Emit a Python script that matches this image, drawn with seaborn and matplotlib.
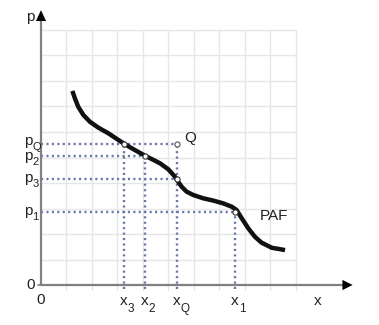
import matplotlib
matplotlib.use("Agg")
import matplotlib.pyplot as plt
import seaborn as sns
import pandas as pd

sns.set_theme(style="white")
plt.rcParams['font.family'] = ['Liberation Sans', 'DejaVu Sans']

# PAF curve (grid units)
curve_x = [1.23, 1.33, 1.46, 1.66, 1.92, 2.25, 2.64, 3.03, 3.29, 3.65, 4.08, 4.40, 4.67, 4.99,
           5.25, 5.38, 5.52, 5.71, 5.97, 6.36, 6.76, 7.15, 7.48, 7.67, 7.87, 8.13, 8.39, 8.65, 9.05, 9.57]
curve_p = [7.61, 7.32, 6.99, 6.67, 6.40, 6.17, 5.95, 5.69, 5.52, 5.31, 5.07, 4.91, 4.77, 4.54,
           4.25, 4.05, 3.85, 3.66, 3.53, 3.40, 3.31, 3.20, 3.07, 2.94, 2.62, 2.22, 1.89, 1.66, 1.46, 1.37]

# marked points
pt_names = ["x3", "x2", "xQ", "x1"]
pt_x = [3.26, 4.08, 5.33, 7.61]
pt_p = [5.53, 5.07, 4.16, 2.87]
q_x, q_p = 5.33, 5.53

x_tick_subs = ["3", "2", "Q", "1"]
p_tick_subs = ["Q", "2", "3", "1"]
p_tick_vals = [5.53, 5.07, 4.16, 2.87]

W, H = 379, 325
fig = plt.figure(figsize=(W / 100, H / 100), dpi=100)
ax = fig.add_axes([0, 0, 1, 1])
s = 25.5
ax.set_xlim(-41 / s, (W - 41) / s)
ax.set_ylim((285 - H) / s, 285 / s)
ax.axis("off")

# grid
gc = "#e6e6e6"
for i in range(1, 11):
    ax.plot([i, i], [-0.2, 10], color=gc, lw=1.0, zorder=0)
    ax.plot([0, 10], [i, i], color=gc, lw=1.0, zorder=0)

# dotted guide lines
dc = "#6a78a8"
dkw = dict(color=dc, lw=1.7, ls=(0, (0.9, 1.4)), zorder=1, dash_capstyle="butt")
ax.plot([0, q_x], [q_p, q_p], **dkw)
ax.plot([0, pt_x[1]], [pt_p[1], pt_p[1]], **dkw)
ax.plot([0, pt_x[2]], [pt_p[2], pt_p[2]], **dkw)
ax.plot([0, pt_x[3]], [pt_p[3], pt_p[3]], **dkw)
ax.plot([pt_x[0], pt_x[0]], [-0.15, pt_p[0]], **dkw)
ax.plot([pt_x[1], pt_x[1]], [-0.15, pt_p[1]], **dkw)
ax.plot([q_x, q_x], [-0.15, q_p], **dkw)
ax.plot([pt_x[3], pt_x[3]], [-0.15, pt_p[3]], **dkw)

# axes with arrows
axc = "#808080"
ax.plot([0, 0], [0, 10.3], color=axc, lw=1.6, zorder=2)
ax.plot([0, 11.8], [0, 0], color=axc, lw=1.6, zorder=2)
ax.plot([-0.12, 0], [0, 0], color=axc, lw=1.2, zorder=2)
ax.fill([-0.2, 0.2, 0], [10.35, 10.35, 10.78], color="black", zorder=3, lw=0)
ax.fill([11.82, 11.82, 12.22], [-0.2, 0.2, 0], color="black", zorder=3, lw=0)

# curve
df = pd.DataFrame({"x": curve_x, "p": curve_p})
sns.lineplot(data=df, x="x", y="p", ax=ax, color="#111111", lw=3.2, sort=False,
             zorder=4, solid_capstyle="butt", solid_joinstyle="round", legend=False)

# points
pdf = pd.DataFrame({"x": pt_x, "p": pt_p})
sns.scatterplot(data=pdf, x="x", y="p", ax=ax, s=14, color="white",
                edgecolor="#333333", linewidth=0.8, zorder=5, legend=False)
ax.scatter([q_x], [q_p], s=14, color="white", edgecolors="#555555", linewidths=0.8, zorder=5)
ax.set_xlabel("")
ax.set_ylabel("")

fs = 11
fss = 8
tc = "#222222"
def tx(px, py, t, size=fs, **kw):
    ax.text((px - 41) / s, (285 - py) / s, t, fontsize=size, color=tc, **kw)

tx(30, 21, "p", ha="center", va="baseline")
tx(31, 289, "0", ha="center", va="baseline")
tx(41, 304, "0", ha="center", va="baseline")
tx(318, 305, "x", ha="center", va="baseline")
for xv, sub in zip(pt_x, x_tick_subs):
    px = 41 + xv * s
    tx(px, 305, "x", ha="center", va="baseline")
    tx(px + 3.5, 312, sub, size=8.5, ha="left", va="baseline")
p_label_shift = [-1.5, 2.0, 0.5, 0.5]
for pv, sub, dy in zip(p_tick_vals, p_tick_subs, p_label_shift):
    py = 285 - pv * s + dy
    tx(32.5, py + 2.5, "p", ha="right", va="baseline")
    tx(32.5, py + 7.5, sub, size=fss, ha="left", va="baseline")
tx(190, 142, "Q", ha="center", va="baseline")
tx(274, 220, "PAF", ha="center", va="baseline")

fig.savefig("out.png", dpi=100)
